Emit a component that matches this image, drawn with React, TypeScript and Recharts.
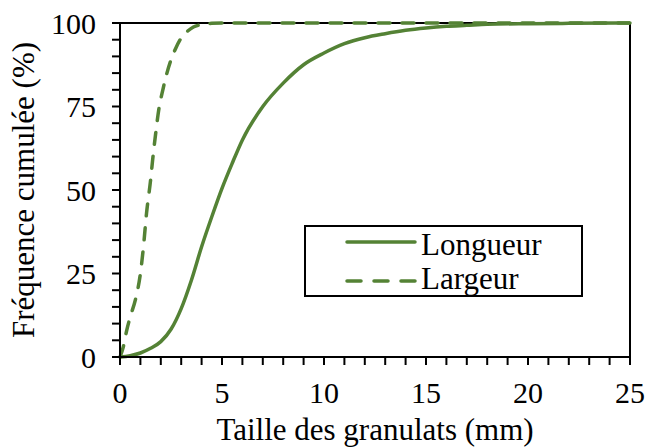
import React from 'react';
import { LineChart, Line, XAxis, YAxis, ReferenceLine } from 'recharts';

const longueurX = [0, 0.5, 1, 1.5, 2, 2.5, 3, 3.5, 4, 4.5, 5, 5.5, 6, 7, 8, 9, 10, 11, 12, 13, 14, 15, 16, 17, 18, 20, 22, 25];
const longueurY = [0, 0.4, 1.2, 2.6, 4.6, 8.3, 14.5, 23, 33, 42, 50.5, 58, 65, 75, 82, 87.5, 91, 93.8, 95.6, 96.8, 97.8, 98.5, 99, 99.3, 99.6, 99.8, 99.9, 100];

const largeurX = [0, 0.16, 0.33, 0.5, 0.75, 1, 1.15, 1.3, 1.5, 1.6, 1.75, 1.9, 2.1, 2.3, 2.5, 2.7, 3, 3.3, 3.6, 4, 4.5, 5, 25];
const largeurY = [0, 3, 8, 12, 17, 25, 33, 43, 53, 59, 67, 74, 80, 85, 89, 92, 95.5, 97.5, 98.8, 99.5, 99.9, 100, 100];

const xTicks = Array.from({ length: 26 }, (_, i) => i);
const yTicks = Array.from({ length: 21 }, (_, i) => i * 5);

const longueur = longueurX.map((x, i) => ({ x, v: longueurY[i] }));
const largeur = largeurX.map((x, i) => ({ x, v: largeurY[i] }));

const GREEN = '#548235';
const FONT = "'Liberation Serif', 'Times New Roman', Tinos, 'DejaVu Serif', 'Noto Serif', FreeSerif, 'Nimbus Roman', Times, serif";

export default function App() {
  const tickStyle = { fill: '#000', fontSize: 30, fontFamily: FONT, style: { fontFamily: FONT } };
  return (
    <div style={{ position: 'absolute', left: 0, top: 0, width: 649, height: 448, background: '#fff', fontFamily: FONT }}>
      <LineChart width={649} height={448} margin={{ top: 23, right: 19, left: 0, bottom: 0 }} style={{ fontFamily: FONT }}>
        <XAxis
          dataKey="x"
          type="number"
          domain={[0, 25]}
          ticks={xTicks}
          interval={0}
          tickFormatter={(v: number) => (v % 5 === 0 ? String(v) : '')}
          height={91}
          tickSize={8}
          tickMargin={17}
          tick={tickStyle}
          axisLine={{ stroke: '#000', strokeWidth: 2 }}
          tickLine={{ stroke: '#000', strokeWidth: 2 }}
          label={{ value: 'Taille des granulats (mm)', position: 'insideBottom', offset: 8, fontFamily: FONT, style: { fill: '#000', fontSize: 31, fontFamily: FONT } }}
        />
        <YAxis
          type="number"
          domain={[0, 100]}
          ticks={yTicks}
          interval={0}
          tickFormatter={(v: number) => (v % 25 === 0 ? String(v) : '')}
          width={120}
          tickSize={8}
          tickMargin={16}
          tick={tickStyle}
          axisLine={{ stroke: '#000', strokeWidth: 2 }}
          tickLine={{ stroke: '#000', strokeWidth: 2 }}
          label={{ value: 'Fréquence cumulée (%)', angle: -90, position: 'center', dx: -37, fontFamily: FONT, style: { fill: '#000', fontSize: 31, fontFamily: FONT, textAnchor: 'middle' } }}
        />
        <ReferenceLine y={100} stroke="#000" strokeWidth={2} />
        <ReferenceLine x={25} stroke="#000" strokeWidth={2} />
        <Line
          data={longueur}
          dataKey="v"
          type="monotone"
          stroke={GREEN}
          strokeWidth={3.5}
          dot={false}
          isAnimationActive={false}
        />
        <Line
          data={largeur}
          dataKey="v"
          type="monotone"
          stroke={GREEN}
          strokeWidth={3.5}
          strokeDasharray="12 12"
          strokeLinecap="round"
          dot={false}
          isAnimationActive={false}
        />
      </LineChart>
      <div
        style={{
          position: 'absolute',
          left: 304,
          top: 225,
          width: 275,
          height: 68,
          border: '2px solid #000',
          background: '#fff',
        }}
      >
        <svg width={275} height={68} style={{ position: 'absolute', left: 0, top: 0, overflow: 'visible' }}>
          <line x1={41} y1={15} x2={109} y2={15} stroke={GREEN} strokeWidth={3.5} strokeLinecap="round" />
          <line x1={41} y1={54} x2={109} y2={54} stroke={GREEN} strokeWidth={3.5} strokeLinecap="round" strokeDasharray="14 13" />
          <text x={115} y={28} fontSize={31} fontFamily={FONT} fill="#000">Longueur</text>
          <text x={115} y={62} fontSize={31} fontFamily={FONT} fill="#000">Largeur</text>
        </svg>
      </div>
    </div>
  );
}
